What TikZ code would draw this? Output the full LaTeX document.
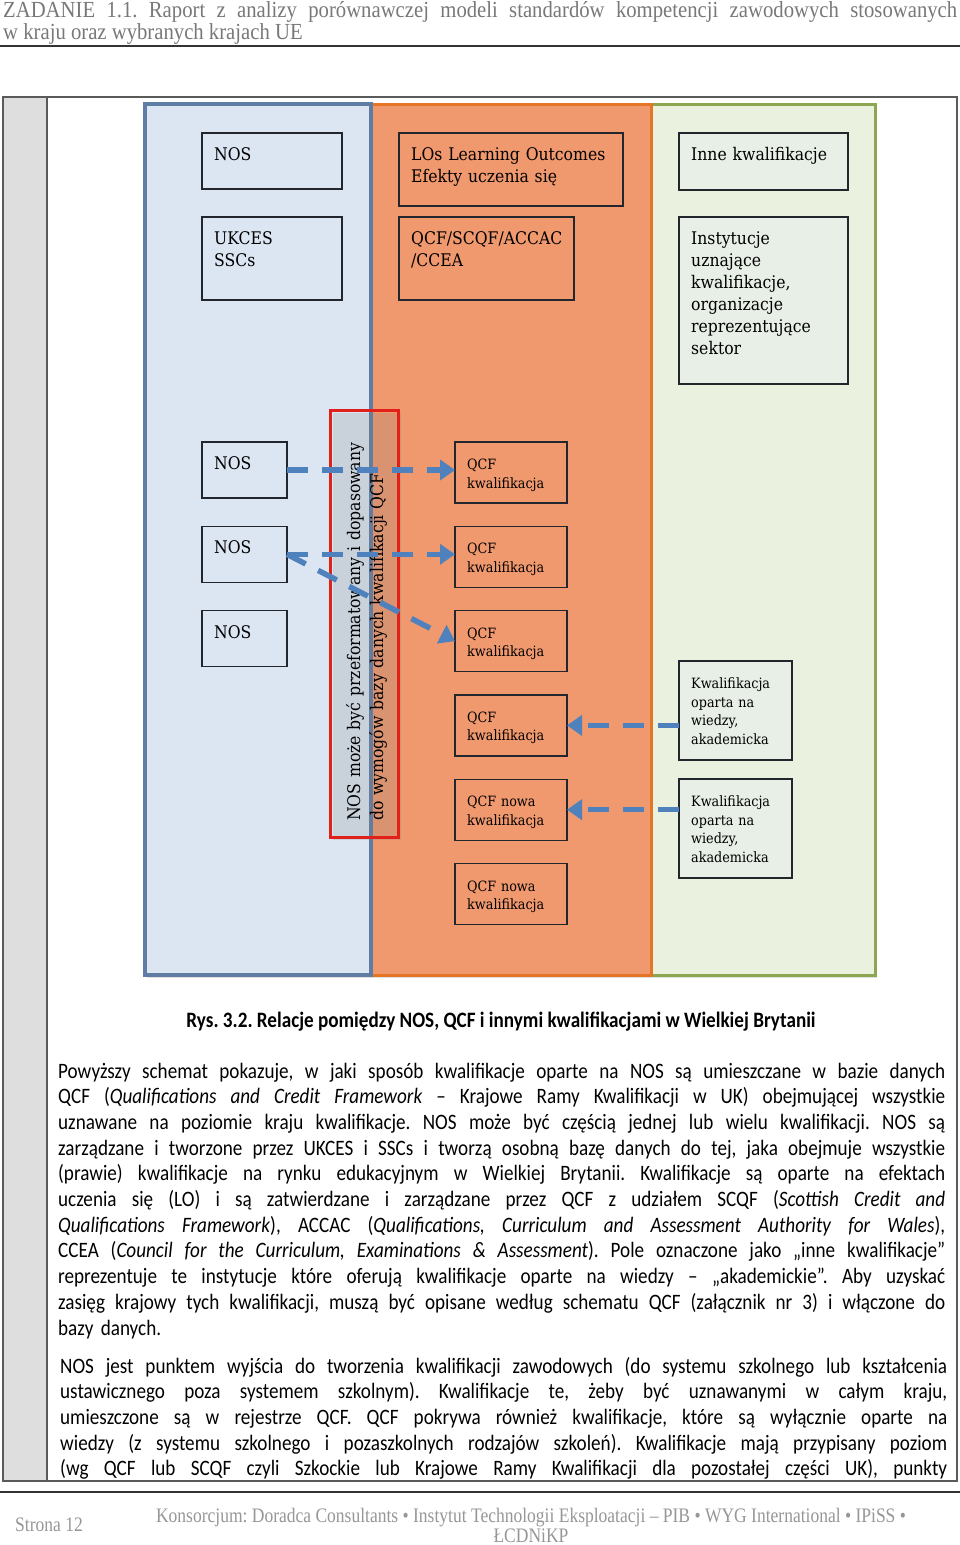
\documentclass[tikz,border=0pt]{standalone}
\usepackage{fontspec}
\setmainfont{Carlito}[FakeStretch=0.87]
\newfontfamily\headfont{Liberation Serif}[FakeStretch=0.9]
\newfontfamily\footfont{Liberation Serif}[FakeStretch=0.85]
\newfontfamily\boxfont{DejaVu Serif}[FakeStretch=0.9]
\usetikzlibrary{arrows.meta,shadows}

\definecolor{bluefill}{RGB}{220,230,242}
\definecolor{blueline}{RGB}{95,124,165}
\definecolor{orangefill}{RGB}{240,152,110}
\definecolor{orangeline}{RGB}{228,118,38}
\definecolor{greenfill}{RGB}{234,241,222}
\definecolor{greenline}{RGB}{140,166,82}
\definecolor{greenbox}{RGB}{232,239,230}
\definecolor{boxline}{RGB}{35,38,45}
\definecolor{arrowblue}{RGB}{79,129,189}
\definecolor{redline}{RGB}{226,32,26}
\definecolor{stripgray}{RGB}{222,222,222}
\definecolor{framegray}{RGB}{90,90,90}
\definecolor{headgray}{RGB}{120,120,120}
\definecolor{footgray}{RGB}{150,150,150}

\tikzset{
  frame/.style={draw=boxline, line width=1.3pt, anchor=north west, inner sep=0pt, outer sep=0pt},
  bigtxt/.style={font=\boxfont\fontsize{17.4}{22}\selectfont, text width=220pt, align=left, inner sep=0pt},
  smalltxt/.style={font=\boxfont\fontsize{14.2}{18.5}\selectfont, text width=120pt, align=left, inner sep=0pt},
  column/.style={line width=3pt, drop shadow={opacity=0.25, shadow xshift=2pt, shadow yshift=-3pt}},
  darrow/.style={draw=arrowblue, line width=5.5pt, dash pattern=on 21pt off 14pt, -{Triangle[length=15pt,width=20pt]}},
  redframe/.style={draw=redline, line width=3pt, anchor=north west, inner sep=0pt,
    drop shadow={opacity=0.2, shadow xshift=2pt, shadow yshift=-2pt}},
  rottxt/.style={font=\boxfont\fontsize{17.4}{23}\selectfont, text width=400pt, align=left, inner sep=0pt},
  bodytxt/.style={font=\fontsize{22}{25.7}\selectfont, text width=887pt, inner sep=0pt, anchor=base west},
  headtxt/.style={font=\headfont\fontsize{23}{23}\selectfont, text=headgray, inner sep=0pt, anchor=base west},
  foottxt/.style={font=\footfont\fontsize{20.6}{20}\selectfont, text=footgray, inner sep=0pt},
}

% box with text in its upper left corner
\newcommand{\qbox}[7][bigtxt]{%
  \node[frame, fill=#2, minimum width=#5, minimum height=#6] (#3) at (#4) {};
  \node[#1, anchor=base west] (#3-t) at ([xshift=12pt, yshift=-27.5pt]#3.north west) {#7};}
% justified line
\newcommand{\jline}[1]{\leavevmode\hbox to \linewidth{\spaceskip=0.22em plus 1fil\xspaceskip=\spaceskip\relax #1}\\}

\begin{document}
\frenchspacing
\begin{tikzpicture}[x=1pt, y=-1pt]
  \useasboundingbox (0,0) rectangle (960,1545);

  % header
  \node[headtxt] (head1) at (3,17) {\makebox[954pt][s]{ZADANIE 1.1. Raport z analizy porównawczej modeli standardów kompetencji zawodowych stosowanych}};
  \node[headtxt] (head2) at (3,39) {w kraju oraz wybranych krajach UE};
  \draw[line width=1.3pt, black!80] (0,46) -- (960,46);

  % page frame
  \fill[stripgray] (3,97) rectangle (47,1481);
  \draw[framegray, line width=1.2pt] (3,97) rectangle (957,1481);
  \draw[framegray, line width=1.2pt] (47,97) -- (47,1481);

  % columns
  \filldraw[column, fill=greenfill, draw=greenline] (651,104) rectangle (875,975);
  \filldraw[column, fill=orangefill, draw=orangeline] (371,104) rectangle (651,975);
  \filldraw[column, fill=bluefill, draw=blueline, line width=3.5pt] (145,104) rectangle (371,975);

  % red frame with rotated note
  \node[redframe, minimum width=68, minimum height=427] (fmtbox) at (329,409) {};
  \node[rottxt, rotate=90, anchor=base west] (fmt) at (360,821)
    {NOS może być przeformatowany i dopasowany\\do wymogów bazy danych kwalifikacji QCF};

  % blue column
  \qbox{bluefill}{nosA}{202,133}{140}{56}{NOS}
  \qbox{bluefill}{ukces}{202,217}{140}{83}{UKCES\\SSCs}
  \foreach \i in {1,2,3}{
    \qbox{bluefill}{nos\i}{202,{442+84.3*(\i-1)}}{85}{56}{NOS}
  }

  % orange column
  \qbox{orangefill}{los}{399,133}{224}{73}{LOs Learning Outcomes\\Efekty uczenia się}
  \qbox{orangefill}{qcfs}{399,217}{175}{83}{QCF/SCQF/ACCAC\\/CCEA}
  \foreach \i/\txt in {1/QCF, 2/QCF, 3/QCF, 4/QCF, 5/QCF nowa, 6/QCF nowa}{
    \qbox[smalltxt]{orangefill}{q\i}{455,{442+84.3*(\i-1)}}{112}{61}{\txt\\kwalifikacja}
  }

  % green column
  \qbox{greenbox}{inne}{679,133}{169}{57}{Inne kwalifikacje}
  \qbox{greenbox}{inst}{679,217}{169}{167}{Instytucje\\uznające\\kwalifikacje,\\organizacje\\reprezentujące\\sektor}
  \qbox[smalltxt]{greenbox}{k1}{679,661}{113}{99}{Kwalifikacja\\oparta na\\wiedzy,\\akademicka}
  \qbox[smalltxt]{greenbox}{k2}{679,779}{113}{99}{Kwalifikacja\\oparta na\\wiedzy,\\akademicka}

  % arrows
  \draw[darrow] (nos1.east) -- (nos1.east -| q1.west);
  \draw[darrow] (nos2.east) -- (nos2.east -| q2.west);
  \draw[darrow] (nos2.east) -- (q3.west);
  \draw[darrow] (k1.west |- q4.east) -- (q4.east);
  \draw[darrow] (k2.west |- q5.east) -- (q5.east);

  % caption
  \node[font=\bfseries\fontsize{22}{25.7}\selectfont, inner sep=0pt, anchor=base] (cap) at (501,1027)
    {Rys. 3.2. Relacje pomiędzy NOS, QCF i innymi kwalifikacjami w Wielkiej Brytanii};

  % text
  \node[bodytxt] (par1) at (58,1078) {%
    \jline{Powyższy schemat pokazuje, w jaki sposób kwalifikacje oparte na NOS są umieszczane w bazie danych}
    \jline{QCF (\textit{Qualifications and Credit Framework} – Krajowe Ramy Kwalifikacji w UK) obejmującej wszystkie}
    \jline{uznawane na poziomie kraju kwalifikacje. NOS może być częścią jednej lub wielu kwalifikacji. NOS są}
    \jline{zarządzane i tworzone przez UKCES i SSCs i tworzą osobną bazę danych do tej, jaka obejmuje wszystkie}
    \jline{(prawie) kwalifikacje na rynku edukacyjnym w Wielkiej Brytanii. Kwalifikacje są oparte na efektach}
    \jline{uczenia się (LO) i są zatwierdzane i zarządzane przez QCF z udziałem SCQF (\textit{Scottish Credit and}}
    \jline{\textit{Qualifications Framework}), ACCAC (\textit{Qualifications, Curriculum and Assessment Authority for Wales}),}
    \jline{CCEA (\textit{Council for the Curriculum, Examinations \& Assessment}). Pole oznaczone jako „inne kwalifikacje”}
    \jline{reprezentuje te instytucje które oferują kwalifikacje oparte na wiedzy – „akademickie”. Aby uzyskać}
    \jline{zasięg krajowy tych kwalifikacji, muszą być opisane według schematu QCF (załącznik nr 3) i włączone do}
    bazy danych.};
  \node[bodytxt] (par2) at (60,1373) {%
    \jline{NOS jest punktem wyjścia do tworzenia kwalifikacji zawodowych (do systemu szkolnego lub kształcenia}
    \jline{ustawicznego poza systemem szkolnym). Kwalifikacje te, żeby być uznawanymi w całym kraju,}
    \jline{umieszczone są w rejestrze QCF. QCF pokrywa również kwalifikacje, które są wyłącznie oparte na}
    \jline{wiedzy (z systemu szkolnego i pozaszkolnych rodzajów szkoleń). Kwalifikacje mają przypisany poziom}
    \leavevmode\hbox to \linewidth{\spaceskip=0.22em plus 1fil\relax (wg QCF lub SCQF czyli Szkockie lub Krajowe Ramy Kwalifikacji dla pozostałej części UK), punkty}};

  % footer
  \draw[line width=1.3pt, black!80] (0,1492) -- (960,1492);
  \node[foottxt, anchor=base west] (page) at (15,1531) {Strona 12};
  \node[foottxt, anchor=base] (cons1) at (531,1522) {Konsorcjum: Doradca Consultants • Instytut Technologii Eksploatacji – PIB • WYG International • IPiSS •};
  \node[foottxt, anchor=base] (cons2) at (531,1542) {ŁCDNiKP};
\end{tikzpicture}
\end{document}
